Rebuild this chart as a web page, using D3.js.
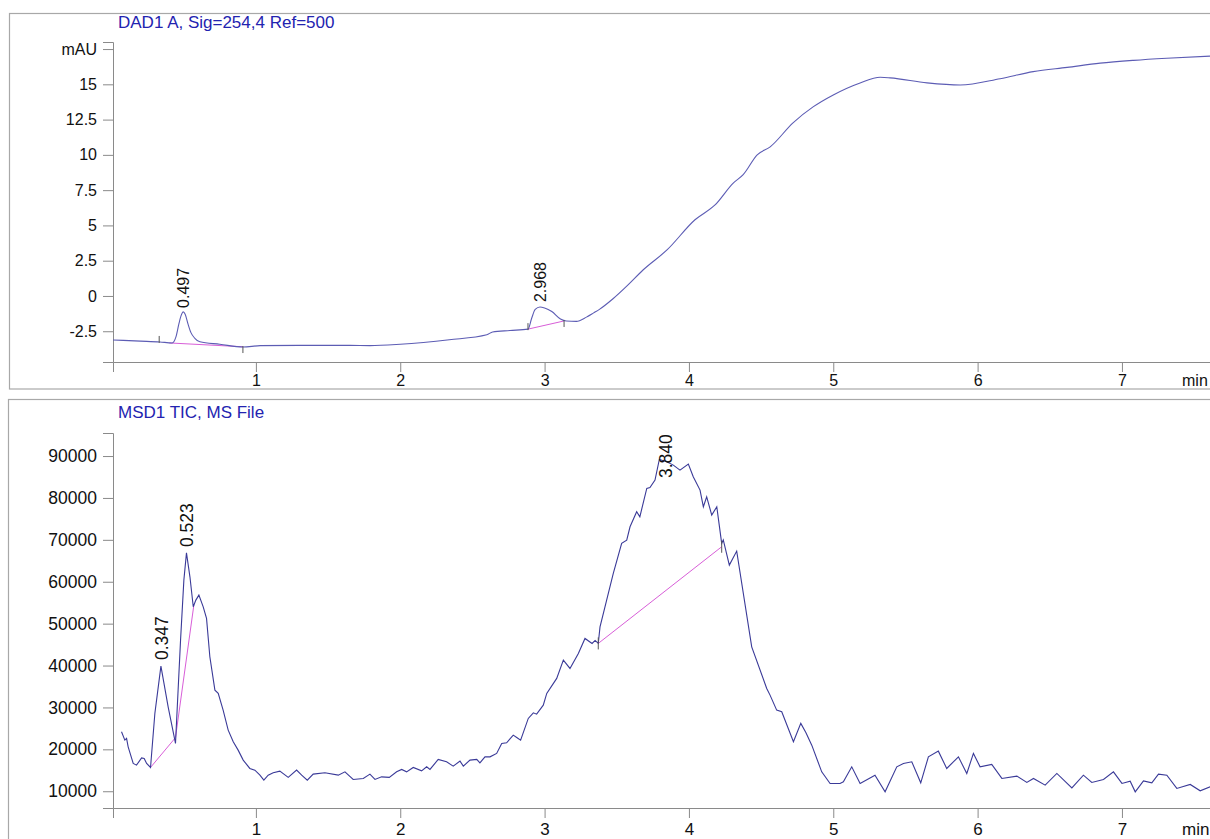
<!DOCTYPE html>
<html>
<head>
<meta charset="utf-8">
<script src="https://cdn.jsdelivr.net/npm/d3@7"></script>
<style>
  html, body { margin: 0; padding: 0; background: #fff; }
  svg { display: block; font-family: Arial, "Liberation Sans", sans-serif; }
</style>
</head>
<body>
<svg id="chart" width="1210" height="839"></svg>
<script>
// ---------------- DATA ----------------
// Top panel: DAD1 A trace (time in min, absorbance in mAU)
const dadTime = [0.01,0.2,0.335,0.42,0.446,0.466,0.48,0.497,0.51,0.53,0.55,0.577,0.612,0.75,0.91,1.03,1.3,1.65,1.79,2.0,2.34,2.6,2.64,2.76,2.885,2.91,2.935,2.968,3.0,3.05,3.11,3.15,3.22,3.29,3.34,3.38,3.474,3.58,3.682,3.848,4.042,4.181,4.307,4.376,4.473,4.563,4.721,4.86,5.0,5.186,5.325,5.394,5.65,5.879,6.156,6.385,6.62,6.849,7.08,7.31,7.61];
const dadValue = [-3.12,-3.2,-3.26,-3.33,-2.9,-2.0,-1.45,-1.13,-1.3,-2.0,-2.6,-3.0,-3.25,-3.42,-3.62,-3.52,-3.5,-3.5,-3.52,-3.42,-3.1,-2.75,-2.55,-2.45,-2.35,-1.6,-0.95,-0.78,-0.85,-1.1,-1.63,-1.77,-1.8,-1.5,-1.2,-0.95,-0.2,0.8,1.84,3.26,5.4,6.45,8.0,8.6,10.0,10.57,12.27,13.4,14.25,15.1,15.5,15.46,15.1,14.95,15.4,15.9,16.2,16.5,16.7,16.85,17.0];
const dadPeakTimes = [0.497, 2.968];
const dadPeakLabels = ["0.497", "2.968"];
const dadPeakLabelAt = [-0.85, -0.43];
// integration baselines [t0, v0, t1, v1]
const dadBaselines = [[0.40,-3.33,0.91,-3.6],[2.885,-2.35,3.135,-1.77]];
const dadEventTicks = [[0.33,-3.26,"up"],[0.91,-3.62,"down"],[2.885,-2.35,"up"],[3.135,-1.77,"down"]];

// Bottom panel: MSD1 TIC trace (time in min, counts)
const ticTime = [0.069,0.092,0.104,0.115,0.150,0.173,0.208,0.226,0.243,0.270,0.300,0.342,0.392,0.443,0.478,0.501,0.519,0.543,0.566,0.584,0.605,0.635,0.658,0.681,0.716,0.739,0.773,0.808,0.843,0.877,0.912,0.958,0.993,1.028,1.055,1.085,1.12,1.166,1.224,1.282,1.317,1.356,1.397,1.478,1.571,1.617,1.674,1.744,1.79,1.825,1.871,1.924,1.975,2.01,2.044,2.09,2.148,2.183,2.206,2.263,2.321,2.367,2.414,2.437,2.483,2.53,2.552,2.587,2.622,2.668,2.703,2.737,2.783,2.807,2.834,2.887,2.922,2.945,2.991,3.015,3.084,3.13,3.176,3.234,3.28,3.329,3.35,3.372,3.384,3.43,3.476,3.534,3.569,3.592,3.638,3.66,3.708,3.73,3.765,3.795,3.846,3.892,3.938,3.996,4.03,4.077,4.1,4.123,4.158,4.193,4.227,4.238,4.28,4.331,4.435,4.539,4.562,4.608,4.643,4.724,4.775,4.81,4.851,4.92,4.978,5.047,5.07,5.128,5.186,5.289,5.359,5.44,5.486,5.544,5.606,5.659,5.728,5.786,5.867,5.925,5.971,6.017,6.098,6.168,6.272,6.341,6.387,6.468,6.549,6.653,6.733,6.791,6.872,6.941,7.0,7.057,7.092,7.149,7.207,7.253,7.311,7.38,7.473,7.542,7.611];
const ticValue = [24180,22200,22600,20600,16640,16230,17970,17830,16640,15680,28570,39860,30150,21400,46070,60390,66900,61180,54020,55620,56810,54020,51250,42090,34130,33350,29360,24590,21800,19810,17430,15440,15040,13840,12650,13840,14400,14800,13300,15040,13840,12650,14080,14400,13840,14630,12810,13050,14080,12810,13440,13300,14630,15200,14630,15680,14870,15830,15200,17590,17020,15990,17190,15990,17430,17590,16780,18210,18210,19020,21410,21560,23390,22840,22200,27380,28720,28400,30550,33350,36930,41300,39310,42890,46470,45280,46000,45280,49240,55620,61990,69150,69940,73120,76700,75500,82280,82500,84260,89200,88630,87840,86650,88080,85050,81870,77890,80280,75910,77890,69150,70000,63970,67310,44470,34540,32940,29360,28960,21800,26190,24000,21000,14630,11860,11860,12250,15830,11860,13840,9860,15830,16640,17020,12010,18210,19570,15440,18210,14240,19020,15830,16400,13060,13600,12100,13060,11460,14240,10810,13840,12100,12820,14630,11860,12410,9860,12480,12010,14080,13840,10670,11620,10100,11050];
const ticPeakTimes = [0.347, 0.523, 3.840];
const ticPeakLabels = ["0.347", "0.523", "3.840"];
const ticPeakLabelAt = [41300, 68270, 84740];
const ticBaselines = [[0.270,15680,0.443,22800],[0.443,22800,0.570,54400],[3.372,45280,4.227,68350]];
const ticEventTicks = [[3.372,45280,"both"],[4.227,68350,"both"]];

// Axis ticks
const xMajor = [1,2,3,4,5,6,7];
const xMinor = d3.range(0.2, 7.61, 0.2);
const dadYMajor = [-2.5,0,2.5,5,7.5,10,12.5,15,17.5];
const dadYLabels = ["-2.5","0","2.5","5","7.5","10","12.5","15","mAU"];
const dadYMinor = d3.range(-4.5, 18.01, 0.5);
const ticYMajor = [10000,20000,30000,40000,50000,60000,70000,80000,90000];
const ticYMinor = d3.range(6000, 95001, 2000);
const titles = ["DAD1 A, Sig=254,4 Ref=500", "MSD1 TIC, MS File"];

// ---------------- DRAWING ----------------
const svg = d3.select("#chart");
const TRACE_TOP = "#5c5cb4";
const TRACE_BOT = "#3a3a98";
const BASE_COL = "#d85ed8";
const AXIS_COL = "#8a8a8a";
const TITLE_COL = "#2323b0";

// panel frames
svg.append("rect").attr("x", 9.5).attr("y", 13.5).attr("width", 1210).attr("height", 375.5)
  .attr("fill", "none").attr("stroke", "#a8a8a8").attr("stroke-width", 1.2);
svg.append("rect").attr("x", 8.5).attr("y", 399.5).attr("width", 1210).attr("height", 450)
  .attr("fill", "none").attr("stroke", "#a8a8a8").attr("stroke-width", 1.2);

function drawPanel(cfg) {
  const x = d3.scaleLinear().domain([0.01, 7.61]).range([113, 1210]);
  const y = d3.scaleLinear().domain(cfg.yDomain).range(cfg.yRange);
  const g = svg.append("g");

  // x axis
  const xa = g.append("g").attr("transform", `translate(0,${cfg.yRange[0]})`);
  xa.call(d3.axisBottom(x).tickValues(xMinor).tickSize(5).tickFormat(""));
  xa.call(d3.axisBottom(x).tickValues(xMajor).tickSize(10).tickFormat(d3.format("d")));
  xa.selectAll("path.domain").attr("stroke", AXIS_COL);
  xa.selectAll("line").attr("stroke", AXIS_COL);
  xa.selectAll("text").attr("fill", "#111").attr("font-size", cfg.xFont).attr("dy", null)
    .attr("y", cfg.xLabelBaseline - cfg.yRange[0]);
  xa.append("text").attr("x", 1182).attr("y", cfg.xLabelBaseline - cfg.yRange[0])
    .attr("fill", "#111").attr("font-size", cfg.xFont).attr("text-anchor", "start").text("min");

  // y axis
  const ya = g.append("g").attr("transform", "translate(113,0)");
  ya.call(d3.axisLeft(y).tickValues(cfg.yMinor).tickSize(5).tickFormat(""));
  ya.call(d3.axisLeft(y).tickValues(cfg.yMajor).tickSize(10)
    .tickFormat((d, i) => cfg.yLabels[i]));
  ya.selectAll("path.domain").attr("stroke", AXIS_COL);
  ya.selectAll("line").attr("stroke", AXIS_COL);
  ya.selectAll("text").attr("fill", "#111").attr("font-size", cfg.yFont).attr("x", -16);

  // title
  g.append("text").attr("x", 118).attr("y", cfg.titleY).attr("fill", TITLE_COL)
    .attr("font-size", 17).text(cfg.title);

  // clip
  const clipId = "clip" + cfg.id;
  svg.append("clipPath").attr("id", clipId).append("rect")
    .attr("x", 113).attr("y", cfg.yRange[1] - 10).attr("width", 1100)
    .attr("height", cfg.yRange[0] - cfg.yRange[1] + 10);
  const plot = g.append("g").attr("clip-path", `url(#${clipId})`);

  // baselines
  plot.selectAll("line.base").data(cfg.baselines).enter().append("line")
    .attr("x1", d => x(d[0])).attr("y1", d => y(d[1]))
    .attr("x2", d => x(d[2])).attr("y2", d => y(d[3]))
    .attr("stroke", BASE_COL).attr("stroke-width", 1);

  // trace
  const pts = cfg.time.map((t, i) => [t, cfg.value[i]]);
  plot.append("path").datum(pts)
    .attr("d", d3.line().curve(cfg.curve).x(d => x(d[0])).y(d => y(d[1])))
    .attr("fill", "none").attr("stroke", cfg.color).attr("stroke-width", 1.1);

  // event ticks
  plot.selectAll("line.ev").data(cfg.events).enter().append("line")
    .attr("x1", d => x(d[0])).attr("x2", d => x(d[0]))
    .attr("y1", d => y(d[1]) + (d[2] === "down" ? -1 : -6))
    .attr("y2", d => y(d[1]) + (d[2] === "up" ? 1 : 6))
    .attr("stroke", "#555").attr("stroke-width", 1);

  // peak labels
  g.selectAll("text.peak").data(cfg.peakTimes).enter().append("text")
    .attr("transform", (d, i) => `translate(${x(d)},${y(cfg.peakLabelAt[i])}) rotate(-90)`)
    .attr("dy", "0.36em").attr("text-anchor", "start")
    .attr("font-size", cfg.peakFont).attr("fill", "#111")
    .text((d, i) => cfg.peakLabels[i]);
}

drawPanel({
  id: "top", title: titles[0], titleY: 28,
  yDomain: [-4.68, 18], yRange: [362, 42],
  yMajor: dadYMajor, yLabels: dadYLabels, yMinor: dadYMinor,
  yFont: 16, xFont: 16, xLabelBaseline: 386, peakFont: 16,
  time: dadTime, value: dadValue, color: TRACE_TOP, curve: d3.curveMonotoneX,
  baselines: dadBaselines, events: dadEventTicks,
  peakTimes: dadPeakTimes, peakLabels: dadPeakLabels, peakLabelAt: dadPeakLabelAt
});

drawPanel({
  id: "bot", title: titles[1], titleY: 418,
  yDomain: [6000, 95500], yRange: [808, 433],
  yMajor: ticYMajor, yLabels: ticYMajor.map(String), yMinor: ticYMinor,
  yFont: 17.5, xFont: 17, xLabelBaseline: 835, peakFont: 17.5,
  time: ticTime, value: ticValue, color: TRACE_BOT, curve: d3.curveLinear,
  baselines: ticBaselines, events: ticEventTicks,
  peakTimes: ticPeakTimes, peakLabels: ticPeakLabels, peakLabelAt: ticPeakLabelAt
});
</script>
</body>
</html>
